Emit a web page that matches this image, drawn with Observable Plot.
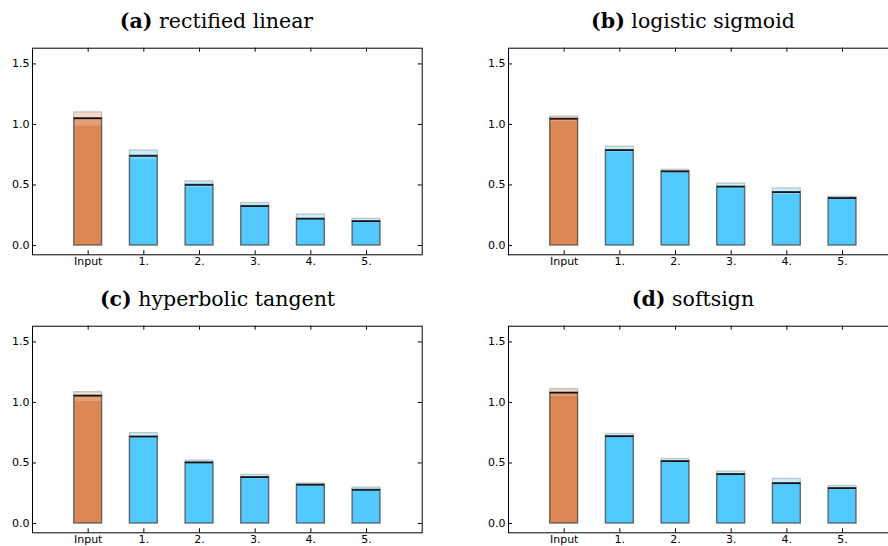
<!DOCTYPE html>
<html>
<head>
<meta charset="utf-8">
<script src="https://cdn.jsdelivr.net/npm/d3@7"></script>
<script src="https://cdn.jsdelivr.net/npm/@observablehq/plot@0.6"></script>
<style>
  html, body { margin: 0; padding: 0; background: #fff; }
  #wrap { position: relative; width: 888px; height: 546px; overflow: hidden; background: #fff; }
  .panel { position: absolute; }
  .panel svg { max-width: none !important; }
  .ttl { position: absolute; width: 400px; text-align: center; font-family: "DejaVu Serif", serif; font-size: 20.5px; color: #000; white-space: nowrap; line-height: 1; }
  .ttl b { font-weight: bold; }
</style>
</head>
<body>
<div id="wrap"></div>
<script>
const cats = ["Input", "1.", "2.", "3.", "4.", "5."];
const yTicks = [0, 0.5, 1.0, 1.5];

const reluLow  = [0.99, 0.71, 0.48, 0.315, 0.21, 0.19];
const reluMean = [1.05, 0.74, 0.50, 0.325, 0.22, 0.20];
const reluHigh = [1.10, 0.785, 0.53, 0.35, 0.255, 0.22];

const sigmoidLow  = [1.03, 0.768, 0.60, 0.47, 0.425, 0.38];
const sigmoidMean = [1.046, 0.787, 0.611, 0.485, 0.44, 0.391];
const sigmoidHigh = [1.065, 0.817, 0.625, 0.512, 0.471, 0.402];

const tanhLow  = [1.014, 0.703, 0.495, 0.371, 0.31, 0.27];
const tanhMean = [1.055, 0.717, 0.503, 0.382, 0.319, 0.277];
const tanhHigh = [1.085, 0.747, 0.519, 0.401, 0.330, 0.297];

const softsignLow  = [1.055, 0.71, 0.505, 0.40, 0.325, 0.28];
const softsignMean = [1.08, 0.72, 0.514, 0.407, 0.332, 0.291];
const softsignHigh = [1.11, 0.739, 0.533, 0.429, 0.368, 0.31];

const panels = [
  {tag: "(a)", name: "rectified linear", low: reluLow, mean: reluMean, high: reluHigh},
  {tag: "(b)", name: "logistic sigmoid", low: sigmoidLow, mean: sigmoidMean, high: sigmoidHigh},
  {tag: "(c)", name: "hyperbolic tangent", low: tanhLow, mean: tanhMean, high: tanhHigh},
  {tag: "(d)", name: "softsign", low: softsignLow, mean: softsignMean, high: softsignHigh}
];

const inputColor = "#dc8754";
const layerColor = "#52c9ff";

// layout
const W = 444, H = 273;
const mL = 32, mR = 22.3, mT = 47.7, mB = 18.7;
const fw = W - mL - mR, fh = H - mT - mB;
const pos = [
  {left: 0, top: 0, tx: 216.5, ty: 11},
  {left: 476.3, top: 0, tx: 693, ty: 11},
  {left: 0, top: 277.6, tx: 217.5, ty: 289},
  {left: 476.3, top: 277.6, tx: 693, ty: 289}
];
const half = 0.25;

const wrap = document.getElementById("wrap");

panels.forEach((p, k) => {
  const rows = cats.map((c, i) => ({
    i, cat: c, low: p.low[i], mean: p.mean[i], high: p.high[i],
    color: i === 0 ? inputColor : layerColor
  }));
  const chart = Plot.plot({
    width: W, height: H,
    marginLeft: mL, marginRight: mR, marginTop: mT, marginBottom: mB,
    style: {fontFamily: "DejaVu Sans, sans-serif", fontSize: "11px", color: "#000", background: "transparent"},
    x: {domain: [-1, 6], axis: null},
    y: {domain: [-0.077, 1.63], axis: null},
    color: {type: "identity"},
    marks: [
      // top band (spread of runs)
      Plot.rectY(rows, {x1: d => d.i - half, x2: d => d.i + half, y1: "mean", y2: "high", fill: "color", fillOpacity: 0.3, stroke: "#8a8a8a", strokeOpacity: 0.45, strokeWidth: 1.3}),
      // middle band
      Plot.rectY(rows, {x1: d => d.i - half, x2: d => d.i + half, y1: "low", y2: "mean", fill: "color", fillOpacity: 0.8}),
      // base bar
      Plot.rectY(rows, {x1: d => d.i - half, x2: d => d.i + half, y1: 0, y2: "low", fill: "color"}),
      // bar outline
      Plot.rectY(rows, {x1: d => d.i - half, x2: d => d.i + half, y1: 0, y2: "mean", fill: "none", stroke: "#4a4a4a", strokeOpacity: 0.8, strokeWidth: 1.4}),
      // mean line
      Plot.ruleY(rows, {y: "mean", x1: d => d.i - half, x2: d => d.i + half, stroke: "#111", strokeWidth: 1.5}),
      Plot.frame({stroke: "#000", strokeWidth: 1}),
      // inward ticks
      Plot.tickY(yTicks, {y: d => d, insetRight: fw - 4, stroke: "#000"}),
      Plot.tickY(yTicks, {y: d => d, insetLeft: fw - 4, stroke: "#000"}),
      Plot.tickX(rows, {x: "i", insetBottom: fh - 4, stroke: "#000"}),
      Plot.tickX(rows, {x: "i", insetTop: fh - 4, stroke: "#000"}),
      Plot.axisY(yTicks, {anchor: "left", tickSize: 0, tickPadding: 3, tickFormat: d3.format(".1f"), label: null, fontSize: 11, fill: "#000"}),
      Plot.axisX(rows.map(d => d.i), {anchor: "bottom", tickSize: 0, tickPadding: 2, tickFormat: i => cats[i], label: null, fontSize: 11, fill: "#000"})
    ]
  });
  const holder = document.createElement("div");
  holder.className = "panel";
  holder.style.left = pos[k].left + "px";
  holder.style.top = pos[k].top + "px";
  holder.appendChild(chart);
  wrap.appendChild(holder);

  const t = document.createElement("div");
  t.className = "ttl";
  t.style.left = (pos[k].tx - 200) + "px";
  t.style.top = pos[k].ty + "px";
  t.innerHTML = "<b>" + p.tag + "</b> " + p.name;
  wrap.appendChild(t);
});
</script>
</body>
</html>
